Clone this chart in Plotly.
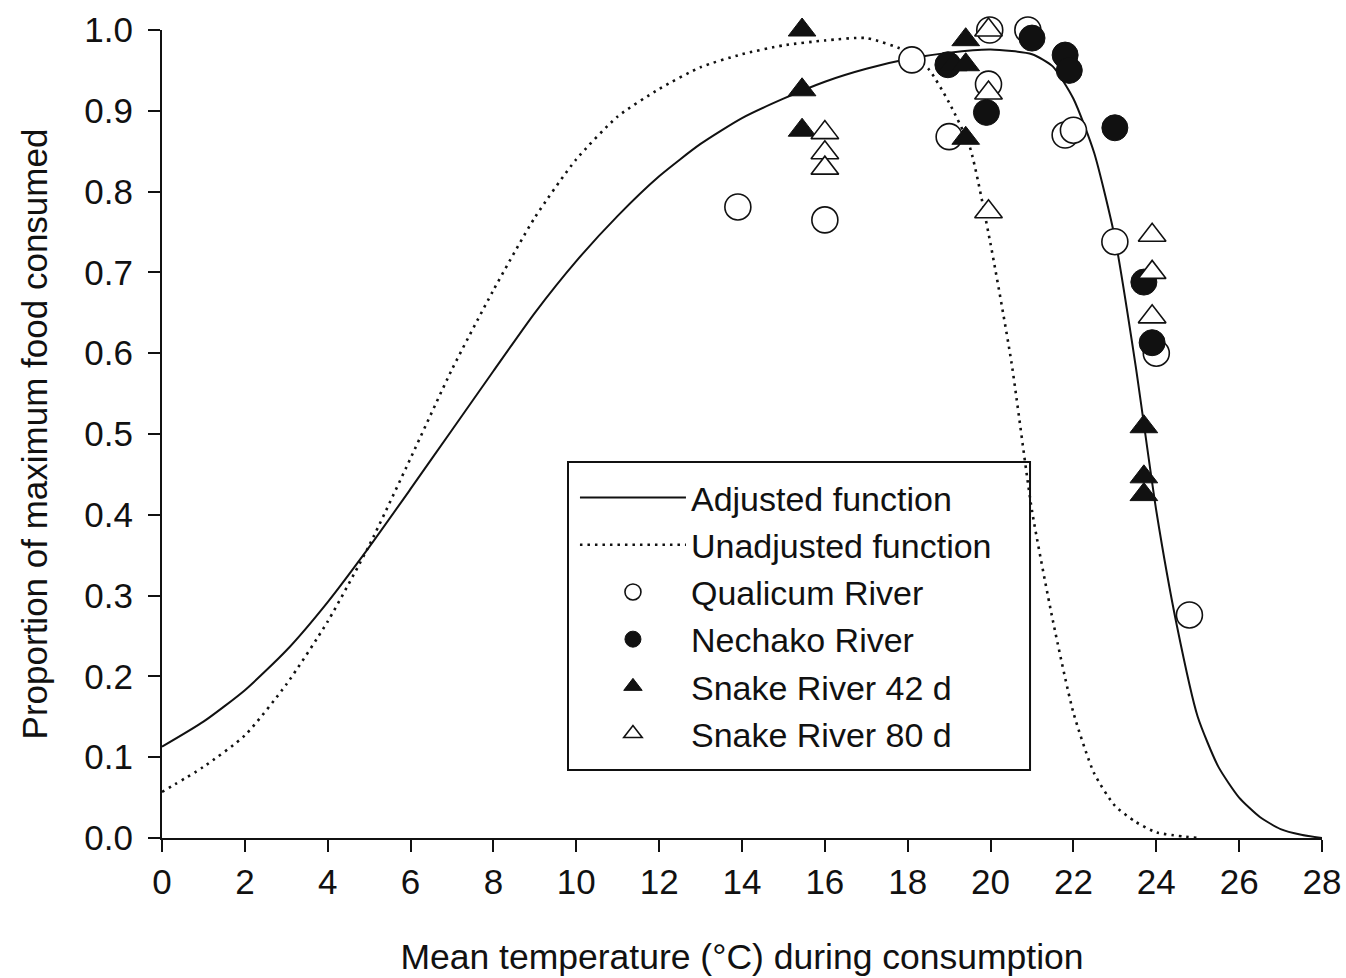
import plotly.graph_objects as go

# Curves
x_adj = [0, 1, 2, 3, 4, 5, 6, 7, 8, 9, 10, 11, 12, 13, 14, 15, 16, 17, 18, 19, 20, 21, 21.5, 22, 22.5, 23, 23.5, 24, 24.5, 25, 25.5, 26, 26.5, 27, 27.5, 28]
y_adj = [0.113, 0.144, 0.183, 0.232, 0.292, 0.360, 0.432, 0.505, 0.578, 0.650, 0.714, 0.770, 0.819, 0.859, 0.891, 0.915, 0.936, 0.952, 0.964, 0.972, 0.976, 0.970, 0.955, 0.915, 0.848, 0.743, 0.585, 0.405, 0.262, 0.150, 0.088, 0.050, 0.026, 0.011, 0.004, 0.0]

x_unadj = [0, 1, 2, 3, 4, 5, 6, 7, 8, 9, 10, 11, 12, 13, 14, 15, 16, 17, 18, 18.5, 19, 19.5, 20, 20.5, 21, 21.5, 22, 22.5, 23, 23.5, 24, 25]
y_unadj = [0.057, 0.088, 0.127, 0.190, 0.268, 0.362, 0.470, 0.580, 0.678, 0.768, 0.840, 0.893, 0.927, 0.954, 0.970, 0.981, 0.987, 0.990, 0.973, 0.952, 0.910, 0.855, 0.735, 0.590, 0.405, 0.270, 0.155, 0.080, 0.040, 0.020, 0.007, 0.0]

# Observations
qual_x = [13.9, 16.0, 18.1, 19.0, 19.98, 19.95, 20.9, 21.8, 22.0, 23.0, 24.0, 24.8]
qual_y = [0.781, 0.765, 0.963, 0.868, 1.0, 0.933, 1.0, 0.870, 0.876, 0.738, 0.600, 0.276]

nech_x = [18.97, 21.0, 21.8, 21.9, 19.9, 23.0, 23.7, 23.9]
nech_y = [0.957, 0.990, 0.969, 0.950, 0.898, 0.879, 0.688, 0.613]

s42_x = [15.45, 15.45, 15.45, 19.4, 19.1, 19.4, 19.4, 23.7, 23.7, 23.7]
s42_y = [1.0, 0.926, 0.876, 0.988, 0.957, 0.957, 0.866, 0.509, 0.447, 0.425]

s80_x = [16.0, 16.0, 16.0, 19.95, 19.95, 19.95, 23.9, 23.9, 23.9]
s80_y = [0.873, 0.848, 0.829, 1.0, 0.922, 0.775, 0.746, 0.700, 0.645]

x_ticks = list(range(0, 29, 2))
y_ticks = [0.0, 0.1, 0.2, 0.3, 0.4, 0.5, 0.6, 0.7, 0.8, 0.9, 1.0]

FONT = "Liberation Sans, Arial, sans-serif"
INK = "#111111"

fig = go.Figure()
fig.add_trace(go.Scatter(x=x_adj, y=y_adj, mode="lines", name="Adjusted function",
                         line=dict(color=INK, width=2, shape="spline", smoothing=0.6)))
fig.add_trace(go.Scatter(x=x_unadj, y=y_unadj, mode="lines", name="Unadjusted function",
                         line=dict(color=INK, width=2.6, dash="2.5px,5px", shape="spline", smoothing=0.6)))
fig.add_trace(go.Scatter(x=qual_x, y=qual_y, mode="markers", name="Qualicum River", cliponaxis=False,
                         marker=dict(symbol="circle", size=26, color="white", line=dict(color=INK, width=1.6))))
fig.add_trace(go.Scatter(x=nech_x, y=nech_y, mode="markers", name="Nechako River", cliponaxis=False,
                         marker=dict(symbol="circle", size=26, color=INK, line=dict(color=INK, width=1))))
fig.add_trace(go.Scatter(x=s42_x, y=s42_y, mode="markers", name="Snake River 42 d", cliponaxis=False,
                         marker=dict(symbol="triangle-up", size=24, color=INK, line=dict(color=INK, width=1))))
fig.add_trace(go.Scatter(x=s80_x, y=s80_y, mode="markers", name="Snake River 80 d", cliponaxis=False,
                         marker=dict(symbol="triangle-up", size=24, color="white", line=dict(color=INK, width=1.6))))

axis_common = dict(showline=True, linecolor=INK, linewidth=2, ticks="outside", tickwidth=2,
                   ticklen=12, tickcolor=INK, showgrid=False, zeroline=False, mirror=False,
                   automargin=False,
                   tickfont=dict(family=FONT, size=35, color=INK))

# legend frame (decorative box around the legend)
fig.add_shape(type="rect", xref="paper", yref="paper",
              x0=0.35, x1=0.7483, y0=0.0842, y1=0.4653,
              line=dict(color=INK, width=2), fillcolor="white", layer="below")

fig.update_layout(
    width=1346, height=978,
    margin=dict(l=162, r=24, t=30, b=140),
    paper_bgcolor="white", plot_bgcolor="white",
    font=dict(family=FONT, color=INK),
    xaxis=dict(range=[0, 28], tickvals=x_ticks, ticktext=[str(v) for v in x_ticks],
               title=dict(text="Mean temperature (\u00b0C) during consumption",
                          font=dict(family=FONT, size=35.5, color=INK), standoff=44),
               **axis_common),
    yaxis=dict(range=[0, 1], tickvals=y_ticks, ticktext=[f"{v:.1f}" for v in y_ticks],
               ticklabelstandoff=8,
               title=dict(text="Proportion of maximum food consumed",
                          font=dict(family=FONT, size=35, color=INK), standoff=26),
               **axis_common),
    showlegend=True,
    legend=dict(x=0.356, y=0.2748, xanchor="left", yanchor="middle",
                borderwidth=0, bgcolor="rgba(0,0,0,0)",
                font=dict(family=FONT, size=34, color=INK),
                itemwidth=106, tracegroupgap=0),
)

fig.write_html("out.html")
